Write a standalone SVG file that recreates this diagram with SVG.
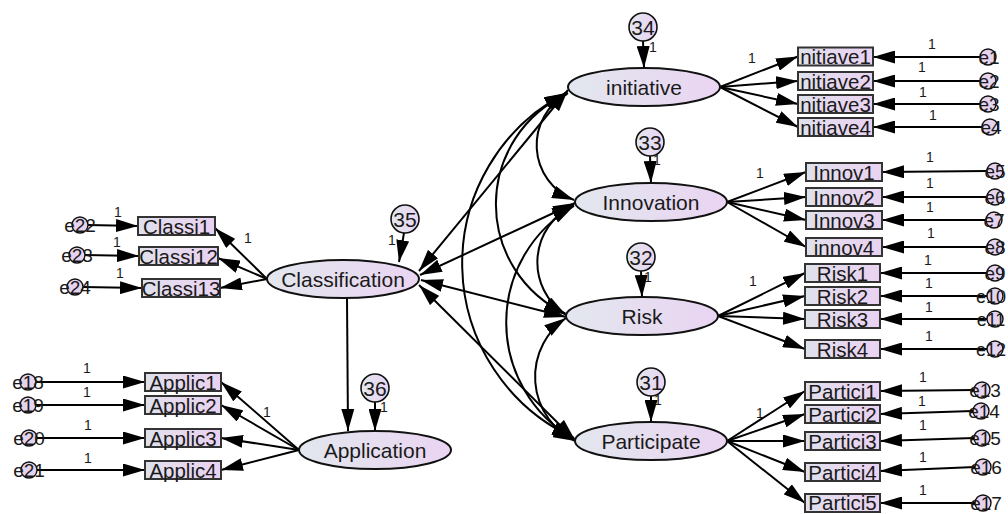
<svg xmlns="http://www.w3.org/2000/svg" width="1008" height="514" viewBox="0 0 1008 514">
<defs>
<linearGradient id="gl" x1="0" x2="1" y1="0" y2="0"><stop offset="0" stop-color="#e2e7ee"/><stop offset="1" stop-color="#ead4f2"/></linearGradient>
<linearGradient id="gb" x1="0" x2="1" y1="0" y2="0"><stop offset="0" stop-color="#dde2ea"/><stop offset="0.25" stop-color="#e4dcee"/><stop offset="1" stop-color="#e9d2f1"/></linearGradient>
<marker id="ah" viewBox="0 0 22 13" refX="22" refY="6.5" markerWidth="22" markerHeight="13" markerUnits="userSpaceOnUse" orient="auto-start-reverse"><path d="M0,0 L22,6.5 L0,13 z" fill="#000"/></marker>
</defs>
<style>
.lat{fill:url(#gl);stroke:#111;stroke-width:2}
.box{fill:url(#gb);stroke:#333;stroke-width:2}
.dis{fill:url(#gl);stroke:#111;stroke-width:1.6}
.err{fill:#e6d4ef;stroke:#111;stroke-width:1.4}
.t{font-family:"Liberation Sans",Arial,sans-serif;fill:#1a1a1a;text-anchor:middle}
.lt{font-size:21px}
.bt{font-size:20.5px}
.dt{font-size:21px}
.et{font-size:19px}
.es{font-size:18px}
.one{font-family:"Liberation Sans",Arial,sans-serif;font-size:14px;fill:#1a1a1a;text-anchor:middle}
.c{fill:none;stroke:#000;stroke-width:2;marker-end:url(#ah)}
.d{fill:none;stroke:#000;stroke-width:2;marker-start:url(#ah);marker-end:url(#ah)}
</style>

<g id="connectors">
<path class="c" d="M643,41 L644,68"/>
<path class="c" d="M650,156 L651,183"/>
<path class="c" d="M641,271 L642,297"/>
<path class="c" d="M651,396 L651,422"/>
<path class="c" d="M404,233 L399,262"/>
<path class="c" d="M375,402 L375,431"/>
<path class="c" d="M347,298 L348,431"/>
<path class="c" d="M720,87 L798,56.5"/>
<path class="c" d="M720,87 L798,81"/>
<path class="c" d="M720,87 L798,104"/>
<path class="c" d="M720,87 L798,127"/>
<path class="c" d="M727,202 L806,172"/>
<path class="c" d="M727,202 L806,197"/>
<path class="c" d="M727,202 L806,220"/>
<path class="c" d="M727,202 L806,247"/>
<path class="c" d="M718,316 L805,273"/>
<path class="c" d="M718,316 L805,296"/>
<path class="c" d="M718,316 L805,319"/>
<path class="c" d="M718,316 L805,349"/>
<path class="c" d="M727,441 L805,391"/>
<path class="c" d="M727,441 L805,414"/>
<path class="c" d="M727,441 L805,441"/>
<path class="c" d="M727,441 L805,472"/>
<path class="c" d="M727,441 L805,503"/>
<path class="c" d="M267,279 L215,228"/>
<path class="c" d="M267,279 L218,258"/>
<path class="c" d="M267,279 L220,288"/>
<path class="c" d="M299,450 L221,382"/>
<path class="c" d="M299,450 L221,405"/>
<path class="c" d="M299,450 L221,438"/>
<path class="c" d="M299,450 L221,470"/>
<path class="c" d="M980,57 L873,57"/>
<path class="c" d="M980,81 L873,81"/>
<path class="c" d="M980,104 L873,104"/>
<path class="c" d="M982,127 L873,127"/>
<path class="c" d="M987,171 L882,172"/>
<path class="c" d="M987,197 L882,197"/>
<path class="c" d="M986,220 L882,220"/>
<path class="c" d="M987,247 L882,247"/>
<path class="c" d="M987,273 L880,273"/>
<path class="c" d="M987,296 L880,296"/>
<path class="c" d="M987,319 L880,319"/>
<path class="c" d="M987,349 L880,349"/>
<path class="c" d="M974,390 L880,391"/>
<path class="c" d="M973,411 L880,414"/>
<path class="c" d="M974,438 L880,441"/>
<path class="c" d="M975,467 L880,471"/>
<path class="c" d="M975,503 L880,503"/>
<path class="c" d="M88,225 L138,226"/>
<path class="c" d="M85,255 L139,256"/>
<path class="c" d="M83,287 L142,288"/>
<path class="c" d="M36,382 L145,382"/>
<path class="c" d="M36,405 L145,405"/>
<path class="c" d="M37,438 L145,438"/>
<path class="c" d="M37,470 L145,470"/>
<path class="d" d="M419,271 L568,90"/>
<path class="d" d="M420,275 L575,203"/>
<path class="d" d="M421,280 L566,317"/>
<path class="d" d="M419,285 L575,440"/>
<path class="d" d="M568,93 A59,59 0 0 0 574,200"/>
<path class="d" d="M567,94 A121,121 0 0 0 566,314"/>
<path class="d" d="M566,93 A192,192 0 0 0 574,438"/>
<path class="d" d="M574,205 A63,63 0 0 0 566,315"/>
<path class="d" d="M574,206 A134,134 0 0 0 574,439"/>
<path class="d" d="M566,318 A71.5,71.5 0 0 0 575,441"/>
</g>

<g id="labels-1">
<text class="one" x="653" y="52">1</text>
<text class="one" x="657" y="165">1</text>
<text class="one" x="648" y="282">1</text>
<text class="one" x="658" y="405">1</text>
<text class="one" x="392" y="245">1</text>
<text class="one" x="384" y="412">1</text>
<text class="one" x="752" y="63">1</text>
<text class="one" x="760" y="178">1</text>
<text class="one" x="753" y="286">1</text>
<text class="one" x="760" y="418">1</text>
<text class="one" x="248" y="243">1</text>
<text class="one" x="267" y="417">1</text>
<text class="one" x="932" y="49">1</text>
<text class="one" x="922" y="72">1</text>
<text class="one" x="923" y="97">1</text>
<text class="one" x="933" y="120">1</text>
<text class="one" x="930" y="162">1</text>
<text class="one" x="930" y="188">1</text>
<text class="one" x="930" y="212">1</text>
<text class="one" x="931" y="238">1</text>
<text class="one" x="928" y="265">1</text>
<text class="one" x="929" y="288">1</text>
<text class="one" x="929" y="312">1</text>
<text class="one" x="929" y="341">1</text>
<text class="one" x="923" y="382">1</text>
<text class="one" x="922" y="406">1</text>
<text class="one" x="923" y="430">1</text>
<text class="one" x="923" y="462">1</text>
<text class="one" x="923" y="495">1</text>
<text class="one" x="118" y="217">1</text>
<text class="one" x="117" y="247">1</text>
<text class="one" x="120" y="278">1</text>
<text class="one" x="87" y="373">1</text>
<text class="one" x="87" y="397">1</text>
<text class="one" x="88" y="430">1</text>
<text class="one" x="88" y="463">1</text>
</g>

<g id="initiative"><ellipse class="lat" cx="644" cy="87" rx="76" ry="19"/><text class="t lt" x="644" y="94.5">initiative</text></g>
<g id="Innovation"><ellipse class="lat" cx="651" cy="202" rx="76" ry="19"/><text class="t lt" x="651" y="209.5">Innovation</text></g>
<g id="Risk"><ellipse class="lat" cx="642" cy="316" rx="76" ry="19"/><text class="t lt" x="642" y="323.5">Risk</text></g>
<g id="Participate"><ellipse class="lat" cx="651" cy="441" rx="76" ry="19"/><text class="t lt" x="651" y="448.5">Participate</text></g>
<g id="Classification"><ellipse class="lat" cx="343" cy="279" rx="76" ry="19"/><text class="t lt" x="343" y="286.5">Classification</text></g>
<g id="Application"><ellipse class="lat" cx="375" cy="450" rx="76" ry="19"/><text class="t lt" x="375" y="457.5">Application</text></g>

<g id="d34"><circle class="dis" cx="643" cy="27" r="14"/><text class="t dt" x="643" y="34.5">34</text></g>
<g id="d33"><circle class="dis" cx="650" cy="142" r="14"/><text class="t dt" x="650" y="149.5">33</text></g>
<g id="d32"><circle class="dis" cx="641" cy="257" r="14"/><text class="t dt" x="641" y="264.5">32</text></g>
<g id="d31"><circle class="dis" cx="651" cy="382" r="14"/><text class="t dt" x="651" y="389.5">31</text></g>
<g id="d35"><circle class="dis" cx="405" cy="219" r="14"/><text class="t dt" x="405" y="226.5">35</text></g>
<g id="d36"><circle class="dis" cx="375" cy="388" r="14"/><text class="t dt" x="375" y="395.5">36</text></g>

<g id="initiave1"><rect class="box" x="798" y="47.5" width="75" height="18"/><text class="t bt" x="835.5" y="64">nitiave1</text></g>
<g id="initiave2"><rect class="box" x="798" y="72" width="75" height="18"/><text class="t bt" x="835.5" y="88.5">nitiave2</text></g>
<g id="initiave3"><rect class="box" x="798" y="95" width="75" height="18"/><text class="t bt" x="835.5" y="111.5">nitiave3</text></g>
<g id="initiave4"><rect class="box" x="798" y="118" width="75" height="18"/><text class="t bt" x="835.5" y="134.5">nitiave4</text></g>
<g id="Innov1"><rect class="box" x="806" y="163" width="76" height="18"/><text class="t bt" x="844" y="179.5">Innov1</text></g>
<g id="Innov2"><rect class="box" x="806" y="188" width="76" height="18"/><text class="t bt" x="844" y="204.5">Innov2</text></g>
<g id="Innov3"><rect class="box" x="806" y="211" width="76" height="18"/><text class="t bt" x="844" y="227.5">Innov3</text></g>
<g id="innov4"><rect class="box" x="806" y="238" width="76" height="18"/><text class="t bt" x="844" y="254.5">innov4</text></g>
<g id="Risk1"><rect class="box" x="805" y="264" width="75" height="18"/><text class="t bt" x="842.5" y="280.5">Risk1</text></g>
<g id="Risk2"><rect class="box" x="805" y="287" width="75" height="18"/><text class="t bt" x="842.5" y="303.5">Risk2</text></g>
<g id="Risk3"><rect class="box" x="805" y="310" width="75" height="18"/><text class="t bt" x="842.5" y="326.5">Risk3</text></g>
<g id="Risk4"><rect class="box" x="805" y="340" width="75" height="18"/><text class="t bt" x="842.5" y="356.5">Risk4</text></g>
<g id="Partici1"><rect class="box" x="805" y="382" width="75" height="18"/><text class="t bt" x="842.5" y="398.5">Partici1</text></g>
<g id="Partici2"><rect class="box" x="805" y="405" width="75" height="18"/><text class="t bt" x="842.5" y="421.5">Partici2</text></g>
<g id="Partici3"><rect class="box" x="805" y="432" width="75" height="18"/><text class="t bt" x="842.5" y="448.5">Partici3</text></g>
<g id="Partici4"><rect class="box" x="805" y="463" width="75" height="18"/><text class="t bt" x="842.5" y="479.5">Partici4</text></g>
<g id="Partici5"><rect class="box" x="805" y="494" width="75" height="18"/><text class="t bt" x="842.5" y="509.5">Partici5</text></g>
<g id="Classi1"><rect class="box" x="138" y="217" width="77" height="18"/><text class="t bt" x="176.5" y="233.5">Classi1</text></g>
<g id="Classi12"><rect class="box" x="139" y="247" width="79" height="18"/><text class="t bt" x="178.5" y="263.5">Classi12</text></g>
<g id="Classi13"><rect class="box" x="142" y="279" width="78" height="18"/><text class="t bt" x="181" y="295.5">Classi13</text></g>
<g id="Applic1"><rect class="box" x="145" y="373" width="76" height="18"/><text class="t bt" x="183" y="389.5">Applic1</text></g>
<g id="Applic2"><rect class="box" x="145" y="396" width="76" height="18"/><text class="t bt" x="183" y="412.5">Applic2</text></g>
<g id="Applic3"><rect class="box" x="145" y="429" width="76" height="18"/><text class="t bt" x="183" y="445.5">Applic3</text></g>
<g id="Applic4"><rect class="box" x="145" y="461" width="76" height="18"/><text class="t bt" x="183" y="477.5">Applic4</text></g>

<g id="e1"><circle class="err" cx="988" cy="57" r="8"/><text class="t et" x="989" y="64">e1</text></g>
<g id="e2"><circle class="err" cx="988" cy="81" r="8"/><text class="t et" x="989" y="88">e2</text></g>
<g id="e3"><circle class="err" cx="988" cy="104" r="8"/><text class="t et" x="989" y="111">e3</text></g>
<g id="e4"><circle class="err" cx="990" cy="127" r="8"/><text class="t et" x="991" y="134">e4</text></g>
<g id="e5"><circle class="err" cx="995" cy="171" r="8"/><text class="t et" x="995" y="178">e5</text></g>
<g id="e6"><circle class="err" cx="995" cy="197" r="8"/><text class="t et" x="995" y="204">e6</text></g>
<g id="e7"><circle class="err" cx="994" cy="220" r="8"/><text class="t et" x="994" y="227">e7</text></g>
<g id="e8"><circle class="err" cx="995" cy="247" r="8"/><text class="t et" x="995" y="254">e8</text></g>
<g id="e9"><circle class="err" cx="995" cy="273" r="8"/><text class="t et" x="995" y="280">e9</text></g>
<g id="e10"><circle class="err" cx="995" cy="296" r="8"/><text class="t es" x="991" y="302.5">e10</text></g>
<g id="e11"><circle class="err" cx="995" cy="319" r="8"/><text class="t es" x="991" y="325.5">e11</text></g>
<g id="e12"><circle class="err" cx="995" cy="349" r="8"/><text class="t es" x="991" y="355.5">e12</text></g>
<g id="e13"><circle class="err" cx="982" cy="390" r="8"/><text class="t et" x="985" y="397">e13</text></g>
<g id="e14"><circle class="err" cx="981" cy="411" r="8"/><text class="t et" x="984" y="418">e14</text></g>
<g id="e15"><circle class="err" cx="982" cy="438" r="8"/><text class="t et" x="985" y="445">e15</text></g>
<g id="e16"><circle class="err" cx="983" cy="467" r="8"/><text class="t et" x="986" y="474">e16</text></g>
<g id="e17"><circle class="err" cx="983" cy="503" r="8"/><text class="t et" x="986" y="510">e17</text></g>
<g id="e22"><circle class="err" cx="80" cy="225" r="8"/><text class="t et" x="80" y="232">e22</text></g>
<g id="e23"><circle class="err" cx="77" cy="255" r="8"/><text class="t et" x="77" y="262">e23</text></g>
<g id="e24"><circle class="err" cx="75" cy="287" r="8"/><text class="t et" x="75" y="294">e24</text></g>
<g id="e18"><circle class="err" cx="28" cy="382" r="8"/><text class="t et" x="28" y="389">e18</text></g>
<g id="e19"><circle class="err" cx="28" cy="405" r="8"/><text class="t et" x="28" y="412">e19</text></g>
<g id="e20"><circle class="err" cx="29" cy="438" r="8"/><text class="t et" x="29" y="445">e20</text></g>
<g id="e21"><circle class="err" cx="29" cy="470" r="8"/><text class="t et" x="29" y="477">e21</text></g>
</svg>
